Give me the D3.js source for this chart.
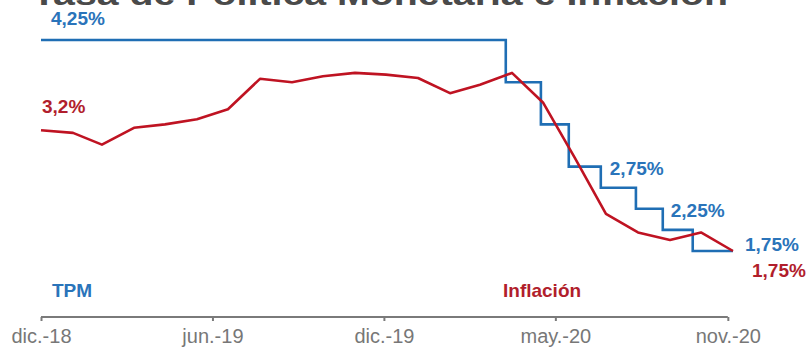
<!DOCTYPE html>
<html>
<head>
<meta charset="utf-8">
<script src="https://cdn.jsdelivr.net/npm/d3@7"></script>
<style>
  html, body { margin: 0; padding: 0; background: #ffffff; }
  svg { display: block; }
</style>
</head>
<body>
<div id="chart"></div>
<script>
// ---- Data ----
const titleText = "Tasa de Política Monetaria e Inflación";

const inflationDates = ["2018-12-31","2019-01-31","2019-02-28","2019-03-31","2019-04-30","2019-05-31",
  "2019-06-30","2019-07-31","2019-08-31","2019-09-30","2019-10-31","2019-11-30","2019-12-31",
  "2020-01-31","2020-02-29","2020-03-31","2020-04-30","2020-05-31","2020-06-30","2020-07-31",
  "2020-08-31","2020-09-30","2020-10-31"];
const inflationValues = [3.18,3.15,3.01,3.21,3.25,3.31,3.43,3.79,3.75,3.82,3.86,3.84,3.80,
  3.62,3.72,3.86,3.51,2.85,2.19,1.97,1.88,1.97,1.75];

const tpmDates = ["2018-12-31","2020-03-25","2020-04-28","2020-05-25","2020-06-25","2020-07-29",
  "2020-08-24","2020-09-22","2020-10-31"];
const tpmValues = [4.25,3.75,3.25,2.75,2.50,2.25,2.00,1.75,1.75];

const tickDates = ["2018-12-31","2019-06-15","2019-11-28","2020-05-12","2020-10-26"];
const tickLabels = ["dic.-18","jun.-19","dic.-19","may.-20","nov.-20"];

// value labels anchored at a date and value
const labelDates = ["2018-12-31","2018-12-31","2020-06-25","2020-08-24","2020-10-31","2020-10-31"];
const labelValues = [4.25,3.18,2.75,2.25,1.75,1.75];
const labelTexts = ["4,25%","3,2%","2,75%","2,25%","1,75%","1,75%"];
const labelSeries = ["tpm","inf","tpm","tpm","tpm","inf"];

const legendTexts = ["TPM","Inflación"];

// ---- Layout ----
const W = 806, H = 349;
const parse = d3.timeParse("%Y-%m-%d");
const blue = "#1f6eb4", blueText = "#2a74ba";
const red = "#bf1322", redText = "#b11e2c";
const font = "Liberation Sans, Arial, sans-serif";

const svg = d3.select("#chart").append("svg").attr("width", W).attr("height", H);

const x = d3.scaleTime()
  .domain([parse(inflationDates[0]), parse(inflationDates[inflationDates.length-1])])
  .range([41, 733]);
const y = d3.scaleLinear().domain([1.75, 4.25]).range([251, 40]);

// Title (cut off at top)
svg.append("text")
  .attr("x", 32).attr("y", 5)
  .attr("font-family", font)
  .attr("font-weight", "bold").attr("font-size", 31)
  .attr("fill", "#4a4a4a")
  .attr("textLength", 696).attr("lengthAdjust", "spacingAndGlyphs")
  .text(titleText);

// Axis
const axisY = 317;
const tickVals = tickDates.map(parse);
const axis = d3.axisBottom(x)
  .tickValues(tickVals)
  .tickSize(4)
  .tickPadding(8)
  .tickFormat((d, i) => tickLabels[i]);
const gA = svg.append("g").attr("transform", `translate(0,${axisY})`).call(axis);
gA.select(".domain").remove();
gA.append("line")
  .attr("x1", x(tickVals[0])).attr("x2", x(tickVals[tickVals.length-1]))
  .attr("y1", 0).attr("y2", 0)
  .attr("stroke", "#7a7a7a").attr("stroke-width", 2);
gA.selectAll(".tick line").attr("stroke", "#7a7a7a").attr("stroke-width", 2);
gA.selectAll(".tick text")
  .attr("font-family", font)
  .attr("font-size", 20).attr("fill", "#777777");

// TPM step line
const tpm = tpmDates.map((d, i) => ({date: parse(d), v: tpmValues[i]}));
svg.append("path")
  .datum(tpm)
  .attr("fill", "none").attr("stroke", blue).attr("stroke-width", 2.6)
  .attr("d", d3.line().x(d => x(d.date)).y(d => y(d.v)).curve(d3.curveStepAfter));

// Inflation line
const inf = inflationDates.map((d, i) => ({date: parse(d), v: inflationValues[i]}));
svg.append("path")
  .datum(inf)
  .attr("fill", "none").attr("stroke", red).attr("stroke-width", 2.6)
  .attr("stroke-linejoin", "round")
  .attr("d", d3.line().x(d => x(d.date)).y(d => y(d.v)));

// Value labels
const offsets = [[10,-15],[1,-17],[9,8],[8,8],[12,0],[19,26]];
labelTexts.forEach((t, i) => {
  svg.append("text")
    .attr("x", x(parse(labelDates[i])) + offsets[i][0])
    .attr("y", y(labelValues[i]) + offsets[i][1])
    .attr("font-family", font)
    .attr("font-weight", "bold").attr("font-size", 19)
    .attr("fill", labelSeries[i] === "tpm" ? blueText : redText)
    .text(t);
});

// Series names
svg.append("text").attr("x", 52).attr("y", 297)
  .attr("font-family", font)
  .attr("font-weight", "bold").attr("font-size", 19).attr("fill", blueText)
  .text(legendTexts[0]);
svg.append("text").attr("x", 503).attr("y", 297)
  .attr("font-family", font)
  .attr("font-weight", "bold").attr("font-size", 19).attr("fill", redText)
  .text(legendTexts[1]);
</script>
</body>
</html>
